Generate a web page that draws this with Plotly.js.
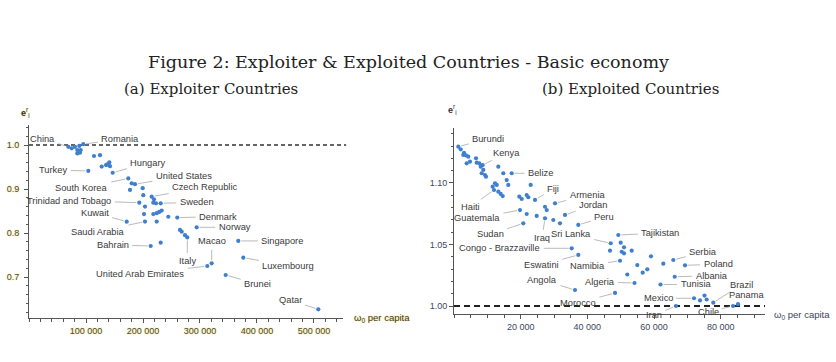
<!DOCTYPE html>
<html>
<head>
<meta charset="utf-8">
<script src="https://cdn.plot.ly/plotly-3.0.1.min.js"></script>
<style>html,body{margin:0;padding:0;background:#fff;}#chart{width:836px;height:362px;}</style>
</head>
<body>
<div id="chart"></div>
<script>
// ---------- DATA ----------
// (a) Exploiter countries: omega_0 per capita vs e_i
const leftX = [68950,74900,80700,88250,95260,84740,90700,84740,89470,
  114000,124560,127540,135090,140880,142100,137370,146840,104040,
  174200,180180,185960,177190,199470,200530,193510,203510,215260,219300,218070,222810,231050,
  171400,201750,218070,224040,228600,232810,244390,260180,203510,224040,
  213510,231050,264910,267890,273680,277720,294210,312810,320530,367190,375960,345090,507540];
const leftY = [0.996,0.9925,0.996,0.998,1.002,0.9886,0.9886,0.981,0.9825,
  0.975,0.977,0.951,0.9545,0.9607,0.952,0.956,0.937,0.941,
  0.924,0.913,0.911,0.898,0.902,0.886,0.869,0.860,0.8825,0.8766,0.869,0.8675,0.8675,
  0.8257,0.843,0.843,0.845,0.848,0.851,0.837,0.835,0.826,0.826,
  0.7705,0.778,0.807,0.803,0.795,0.790,0.813,0.725,0.731,0.782,0.744,0.7045,0.6266];
const leftNames = ['China','','','','Romania','','','','',
  '','','','','','','','Hungary','Turkey',
  'South Korea','','United States','','','','Trinidad and Tobago','','Czech Republic','','','','Sweden',
  'Kuwait','','','','','','','Denmark','Saudi Arabia','',
  'Bahrain','','','','','Italy','Norway','United Arab Emirates','Macao','Singapore','Luxembourg','Brunei','Qatar'];

// (b) Exploited countries
const rightX = [1290,2010,3000,3600,2790,4290,4800,3810,6600,6810,7590,8010,8610,8790,9300,9600,8310,
  13290,14790,17310,15810,16290,12300,11610,12810,12000,13290,14010,14610,
  23010,19590,20310,21810,22290,24300,19800,21810,24810,27300,27810,30300,27300,29790,31800,33300,37290,20790,
  35310,37290,49290,47010,50010,51000,46800,50310,51000,53310,49800,54990,51990,56610,57990,59100,62790,
  65790,69300,66210,61950,54150,48300,36300,72000,73800,75150,75810,77790,66600,83700,85200];
const rightY = [1.1295,1.1274,1.1246,1.1225,1.1228,1.1214,1.1173,1.1160,1.1201,1.1165,1.1160,1.1133,1.1146,1.1106,1.1065,1.1051,1.1079,
  1.1133,1.1079,1.1079,1.1024,1.0984,1.0998,1.0970,1.0984,1.0943,1.0929,1.0911,1.0894,
  1.0984,1.0889,1.0870,1.0902,1.0884,1.0862,1.0780,1.0748,1.0732,1.0807,1.0780,1.0835,1.0713,1.0699,1.0672,1.0740,1.0659,1.0672,
  1.0469,1.0415,1.0577,1.0510,1.0515,1.0477,1.0450,1.0441,1.0428,1.0450,1.0368,1.0333,1.0256,1.0271,1.0298,1.0404,1.0344,
  1.0374,1.0331,1.0238,1.0175,1.0187,1.0106,1.0130,1.0063,1.0045,1.0085,1.0053,1.0027,1.0000,1.0000,1.0015];
const rightNames = ['Burundi','','','','','','','','','','','','Kenya','','','','',
  '','','Belize','','','','','','Haiti','','','',
  '','','','','','Fiji','Guatemala','','','','','Armenia','Iraq','','','Jordan','Peru','Sudan',
  'Congo - Brazzaville','Eswatini','Tajikistan','Sri Lanka','','','','','','','Namibia','','','','','','',
  'Serbia','Poland','Albania','Tunisia','Algeria','Morocco','Angola','Mexico','','','','Brazil','Iran','Chile','Panama'];

const leftTicksX = [100000,200000,300000,400000,500000];
const leftTicksY = [0.7,0.8,0.9,1.0];
const rightTicksX = [20000,40000,60000,80000];
const rightTicksY = [1.00,1.05,1.10];

// ---------- STYLE / PLACEMENT ----------
const labelOffsets = {
  'China':[-26,-8],'Romania':[37,-5],'Turkey':[-35,-1],'Hungary':[35,-10],'United States':[49,-8],
  'Czech Republic':[53,-10],'South Korea':[-47,10],'Sweden':[36,-1],'Trinidad and Tobago':[-70,-2],
  'Kuwait':[-32,-9],'Denmark':[41,-1],'Norway':[38,0],'Saudi Arabia':[-47,10],'Macao':[0,-22],
  'Singapore':[44,0],'Bahrain':[-38,-1],'Italy':[0,24],'Luxembourg':[45,8],'United Arab Emirates':[-67,8],
  'Brunei':[32,9],'Qatar':[-28,-9],
  'Burundi':[30,-8],'Kenya':[24,-12],'Belize':[29,0],'Fiji':[18,-11],'Armenia':[32,-8],'Jordan':[28,-10],
  'Peru':[26,-8],'Haiti':[-24,17],'Guatemala':[-43,8],'Sudan':[-33,11],'Sri Lanka':[-40,-9],'Iraq':[-3,20],
  'Congo - Brazzaville':[-72,0],'Tajikistan':[42,-2],'Eswatini':[-37,10],'Namibia':[-33,5],'Serbia':[30,-8],
  'Poland':[33,-1],'Angola':[-33,-10],'Algeria':[-35,-1],'Albania':[37,-1],'Tunisia':[35,0],'Brazil':[28,-18],
  'Mexico':[-36,0],'Panama':[8,-9],'Morocco':[-37,10],'Iran':[-22,9],'Chile':[-25,6]
};

const W = 836, H = 362;
const px = v => v / W, py = v => 1 - v / H;
const dotColor = '#3f7fce';
const labelFont = {family: 'Liberation Sans, Arial, sans-serif', size: 9.3, color: '#3a3a3a'};
const tickFontL = {family: 'Liberation Sans, Arial, sans-serif', size: 9, color: '#4a4a3a', shadow: '0px 0px 2px #f3d34a'};
const tickFontR = {family: 'Liberation Sans, Arial, sans-serif', size: 9, color: '#3c4660'};

const traces = [
  {type: 'scatter', mode: 'markers', x: leftX, y: leftY, xaxis: 'x', yaxis: 'y',
   marker: {color: dotColor, size: 4.2}, hoverinfo: 'skip'},
  {type: 'scatter', mode: 'markers', x: rightX, y: rightY, xaxis: 'x2', yaxis: 'y2',
   marker: {color: dotColor, size: 4.2}, hoverinfo: 'skip'}
];

const annotations = [];
function addLabels(xs, ys, names, xr, yr) {
  names.forEach((n, i) => {
    if (!n) return;
    const o = labelOffsets[n] || [20, -10];
    annotations.push({x: xs[i], y: ys[i], xref: xr, yref: yr, text: n, showarrow: true,
      ax: o[0], ay: o[1], axref: 'pixel', ayref: 'pixel', arrowhead: 0, arrowwidth: 0.8,
      arrowcolor: '#a8a8a8', standoff: 3, startstandoff: 2, font: labelFont});
  });
}
addLabels(leftX, leftY, leftNames, 'x', 'y');
addLabels(rightX, rightY, rightNames, 'x2', 'y2');

const serif = 'DejaVu Serif, Liberation Serif, serif';
annotations.push(
  {xref: 'paper', yref: 'paper', x: px(408), y: py(62), xanchor: 'center', yanchor: 'middle',
   text: 'Figure 2: Exploiter &amp; Exploited Countries - Basic economy',
   showarrow: false, font: {family: serif, size: 17.5, color: '#222'}},
  {xref: 'paper', yref: 'paper', x: px(211), y: py(89), xanchor: 'center', yanchor: 'middle', text: '(a) Exploiter Countries',
   showarrow: false, font: {family: serif, size: 15, color: '#222'}},
  {xref: 'paper', yref: 'paper', x: px(630), y: py(89), xanchor: 'center', yanchor: 'middle', text: '(b) Exploited Countries',
   showarrow: false, font: {family: serif, size: 15, color: '#222'}},
  {xref: 'x domain', yref: 'y domain', x: 1, y: 0, xanchor: 'left', yanchor: 'middle', xshift: 9,
   text: 'ω<sub>0</sub> per capita', showarrow: false,
   font: {family: 'Liberation Sans, Arial, sans-serif', size: 9.5, color: '#3a3a2a', shadow: '0px 0px 2px #f3d34a'}},
  {xref: 'x2 domain', yref: 'y2 domain', x: 1, y: 0, xanchor: 'left', yanchor: 'middle', xshift: 7, yshift: -1,
   text: 'ω<sub>0</sub> per capita', showarrow: false,
   font: {family: 'Liberation Sans, Arial, sans-serif', size: 9.5, color: '#3c4660'}},
  {xref: 'x domain', yref: 'y domain', x: 0, y: 1, xanchor: 'center', yanchor: 'bottom', xshift: -4, yshift: 4,
   text: '<b>e</b><sup>r</sup><sub>i</sub>', showarrow: false,
   font: {family: 'Liberation Sans, Arial, sans-serif', size: 9, color: '#333', shadow: '0px 0px 2px #f3d34a'}},
  {xref: 'x2 domain', yref: 'y2 domain', x: 0, y: 1, xanchor: 'center', yanchor: 'bottom', xshift: -2, yshift: 10,
   text: '<b>e</b><sup>r</sup><sub>i</sub>', showarrow: false,
   font: {family: 'Liberation Sans, Arial, sans-serif', size: 9, color: '#333'}}
);

const axisCommon = {showgrid: false, zeroline: false, showline: true, linecolor: '#555', linewidth: 1,
  ticks: 'outside', ticklen: 4, tickcolor: '#555', tickwidth: 1, fixedrange: true};

const layout = {
  width: W, height: H, margin: {l: 0, r: 0, t: 0, b: 0},
  paper_bgcolor: '#fff', plot_bgcolor: 'rgba(0,0,0,0)', showlegend: false,
  separators: '. ',
  xaxis: Object.assign({}, axisCommon, {domain: [px(29), px(343)], range: [0, 550900],
    tickmode: 'array', tickvals: leftTicksX, tickformat: ',d', tickfont: tickFontL, anchor: 'y',
    minor: {tickmode: 'linear', tick0: 0, dtick: 20000, ticklen: 2.5, ticks: 'outside', tickcolor: '#555'}}),
  yaxis: Object.assign({}, axisCommon, {domain: [py(318), py(125)], range: [0.6068, 1.0455],
    tickmode: 'array', tickvals: leftTicksY, tickformat: '.1f', tickfont: tickFontL, anchor: 'x', ticklabelstandoff: 3,
    minor: {tickmode: 'linear', tick0: 0, dtick: 0.02, ticklen: 2.5, ticks: 'outside', tickcolor: '#555'}}),
  xaxis2: Object.assign({}, axisCommon, {domain: [px(454), px(765)], range: [0, 93300],
    tickmode: 'array', tickvals: rightTicksX, tickformat: ',d', tickfont: tickFontR, anchor: 'y2',
    minor: {tickmode: 'linear', tick0: 0, dtick: 5000, ticklen: 2.5, ticks: 'outside', tickcolor: '#555'}}),
  yaxis2: Object.assign({}, axisCommon, {domain: [py(314), py(128)], range: [0.9935, 1.1447],
    tickmode: 'array', tickvals: rightTicksY, tickformat: '.2f', tickfont: tickFontR, anchor: 'x2',
    minor: {tickmode: 'linear', tick0: 0, dtick: 0.01, ticklen: 2.5, ticks: 'outside', tickcolor: '#555'}}),
  shapes: [
    {type: 'line', xref: 'x domain', yref: 'y', x0: 0, x1: 1.01, y0: 1.0, y1: 1.0,
     line: {color: '#333', width: 1.4, dash: '4px,3px'}, layer: 'below'},
    {type: 'line', xref: 'x2 domain', yref: 'y2', x0: 0, x1: 1.0, y0: 1.0, y1: 1.0,
     line: {color: '#222', width: 2, dash: '6px,4px'}, layer: 'below'}
  ],
  annotations: annotations
};

Plotly.newPlot('chart', traces, layout, {staticPlot: true, displayModeBar: false});
</script>
</body>
</html>
